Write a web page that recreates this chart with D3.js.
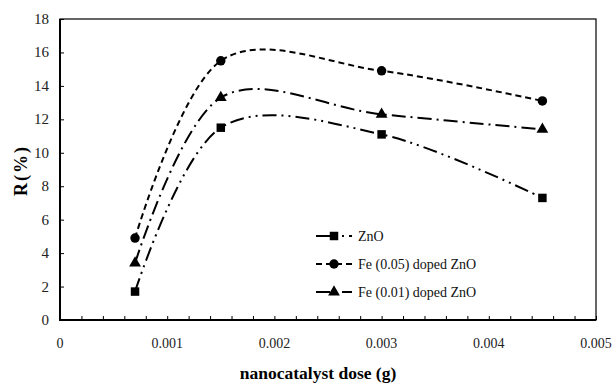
<!DOCTYPE html>
<html>
<head>
<meta charset="utf-8">
<script src="https://cdn.jsdelivr.net/npm/d3@7"></script>
</head>
<body style="margin:0">
<svg id="chart" width="613" height="383"></svg>
<script>
// Catalyst dose (g) and removal R(%) for each catalyst
const doses = [0.0007, 0.0015, 0.003, 0.0045];
const znO = [1.7, 11.5, 11.1, 7.3];
const fe005 = [4.9, 15.5, 14.9, 13.1];
const fe001 = [3.4, 13.3, 12.3, 11.4];
const seriesNames = ["ZnO", "Fe (0.05) doped ZnO", "Fe (0.01) doped ZnO"];
const xTicks = [0, 0.001, 0.002, 0.003, 0.004, 0.005];
const yTicks = [0, 2, 4, 6, 8, 10, 12, 14, 16, 18];

const svg = d3.select("#chart");
const margin = { top: 19, right: 17, bottom: 63, left: 60 };
const W = 613, H = 383;
const iw = W - margin.left - margin.right;
const ih = H - margin.top - margin.bottom;

const x = d3.scaleLinear().domain([0, 0.005]).range([margin.left, margin.left + iw]);
const y = d3.scaleLinear().domain([0, 18]).range([margin.top + ih, margin.top]);

// all labels share one serif face
function label(sel, size, bold) {
  return sel
    .attr("font-family", "Liberation Serif")
    .style("font-family", '"Liberation Serif"')
    .attr("font-size", size)
    .attr("font-weight", bold ? "bold" : "normal");
}

// plot frame
svg.append("rect")
  .attr("x", margin.left).attr("y", margin.top)
  .attr("width", iw).attr("height", ih)
  .attr("fill", "none").attr("stroke", "#000").attr("stroke-width", 1.2);

// y axis: inward ticks
const yAxis = svg.append("g")
  .attr("transform", `translate(${margin.left},0)`)
  .call(d3.axisRight(y).tickValues(yTicks).tickSize(4).tickFormat(""));
yAxis.select(".domain").remove();
yAxis.selectAll("line").attr("stroke", "#000").attr("stroke-width", 1);
yTicks.forEach(t => {
  label(svg.append("text"), 15, false)
    .attr("x", margin.left - 11).attr("y", y(t) + 5)
    .attr("text-anchor", "end").attr("fill", "#222")
    .text(t);
});

// x axis: inward ticks, minor every 0.0002
const minorTicks = d3.range(0, 26).map(i => i * 0.0002);
const xAxis = svg.append("g")
  .attr("transform", `translate(0,${margin.top + ih})`)
  .call(d3.axisTop(x).tickValues(minorTicks).tickSize(4).tickFormat(""));
xAxis.select(".domain").remove();
xAxis.selectAll("line").attr("stroke", "#000").attr("stroke-width", 1);
xTicks.forEach(t => {
  label(svg.append("text"), 14, false)
    .attr("x", x(t)).attr("y", margin.top + ih + 28)
    .attr("text-anchor", "middle").attr("fill", "#222")
    .text(t === 0 ? "0" : d3.format(".3f")(t));
});

// heavier left and bottom axis lines
svg.append("line")
  .attr("x1", margin.left).attr("x2", margin.left)
  .attr("y1", margin.top).attr("y2", margin.top + ih + 1)
  .attr("stroke", "#000").attr("stroke-width", 2);
svg.append("line")
  .attr("x1", margin.left - 1).attr("x2", margin.left + iw)
  .attr("y1", margin.top + ih).attr("y2", margin.top + ih)
  .attr("stroke", "#000").attr("stroke-width", 2);

// axis titles
label(svg.append("text"), 18, true)
  .attr("transform", `translate(27,${margin.top + ih / 2 + 1}) rotate(-90)`)
  .attr("text-anchor", "middle")
  .attr("letter-spacing", 2)
  .text("R(%)");
label(svg.append("text"), 17.5, true)
  .attr("x", 318).attr("y", 379)
  .attr("text-anchor", "middle")
  .text("nanocatalyst dose (g)");

const series = [
  { name: seriesNames[0], values: znO, dash: "14,5,2,5,2,5", marker: "square" },
  { name: seriesNames[1], values: fe005, dash: "6,4", marker: "circle" },
  { name: seriesNames[2], values: fe001, dash: "14,5,2,5", marker: "triangle" }
];

const line = d3.line()
  .x(d => x(d[0])).y(d => y(d[1]))
  .curve(d3.curveCardinal.tension(0));

const markerPath = {
  square: d3.symbol(d3.symbolSquare, 72),
  circle: d3.symbol(d3.symbolCircle, 70),
  triangle: d3.symbol(d3.symbolTriangle, 60)
};

series.forEach(s => {
  const pts = doses.map((d, i) => [d, s.values[i]]);
  svg.append("path")
    .attr("d", line(pts))
    .attr("fill", "none").attr("stroke", "#000")
    .attr("stroke-width", 2).attr("stroke-dasharray", s.dash);
  svg.append("g").selectAll("path").data(pts).join("path")
    .attr("d", markerPath[s.marker]())
    .attr("transform", d => `translate(${x(d[0])},${y(d[1])})`)
    .attr("fill", "#000");
});

// legend
series.forEach((s, i) => {
  const ly = 236 + i * 28;
  svg.append("line")
    .attr("x1", 316).attr("x2", 352).attr("y1", ly).attr("y2", ly)
    .attr("stroke", "#000").attr("stroke-width", 2)
    .attr("stroke-dasharray", s.dash);
  svg.append("path")
    .attr("d", markerPath[s.marker]())
    .attr("transform", `translate(334,${ly})`)
    .attr("fill", "#000");
  label(svg.append("text"), 14, false)
    .attr("x", 358).attr("y", ly + 5).attr("fill", "#111")
    .text(s.name);
});
</script>
</body>
</html>
